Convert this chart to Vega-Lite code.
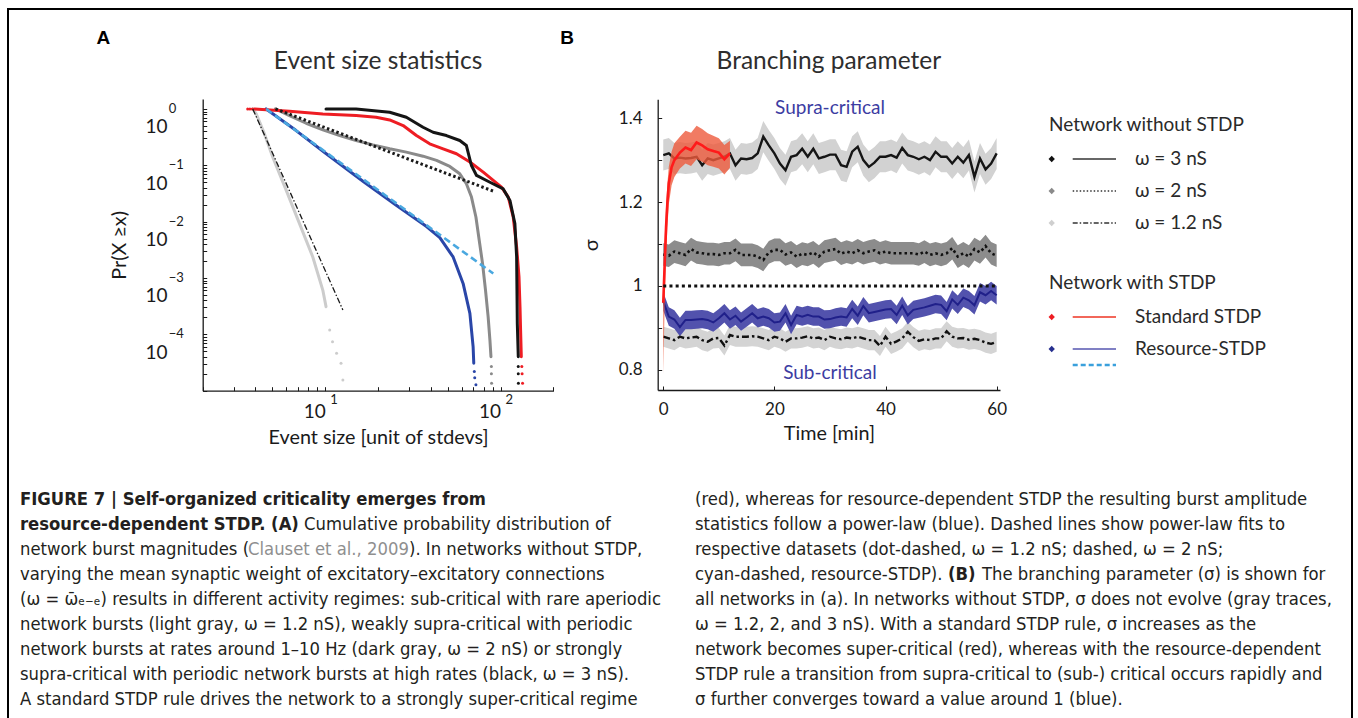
{
"$schema": "https://vega.github.io/schema/vega-lite/v6.json",
"width": 1358,
"height": 718,
"autosize": {"type": "none"},
"padding": 0,
"background": "white",
"config": {
  "view": {"stroke": null},
  "font": "Lato",
  "axis": {"grid": false, "domainColor": "#1a1a1a", "domainWidth": 1.3, "tickColor": "#1a1a1a", "tickWidth": 1, "labelColor": "#1a1a1a", "titleColor": "#1a1a1a", "labelFont": "Lato", "titleFont": "Lato", "titleFontWeight": "normal", "labelOverlap": false, "labelFlush": false}
},
"resolve": {"scale": {"x": "independent", "y": "independent", "color": "independent", "stroke": "independent", "strokeDash": "independent"}, "axis": {"x": "independent", "y": "independent"}},
"datasets": {
  "sizeLines": [
    {"series":"w12","x":3.86,"p":1},{"series":"w12","x":4.04,"p":0.816},{"series":"w12","x":4.5,"p":0.36},{"series":"w12","x":5.02,"p":0.139},{"series":"w12","x":5.99,"p":0.0358},{"series":"w12","x":7.13,"p":0.0092},{"series":"w12","x":8.49,"p":0.00236},{"series":"w12","x":9.68,"p":0.00061},{"series":"w12","x":10.1,"p":0.00031},
    {"series":"w2","x":5.2,"p":1},{"series":"w2","x":6.25,"p":0.762},{"series":"w2","x":7.78,"p":0.557},{"series":"w2","x":9.69,"p":0.425},{"series":"w2","x":12.1,"p":0.337},{"series":"w2","x":15,"p":0.275},{"series":"w2","x":18.7,"p":0.23},{"series":"w2","x":23.3,"p":0.196},{"series":"w2","x":29,"p":0.171},{"series":"w2","x":36.1,"p":0.145},{"series":"w2","x":43.1,"p":0.122},{"series":"w2","x":51.3,"p":0.0953},{"series":"w2","x":58.5,"p":0.0706},{"series":"w2","x":63.8,"p":0.047},{"series":"w2","x":68.2,"p":0.0273},{"series":"w2","x":72.3,"p":0.0121},{"series":"w2","x":75.5,"p":0.00467},{"series":"w2","x":78.9,"p":0.0018},{"series":"w2","x":82,"p":0.00061},{"series":"w2","x":84.9,"p":0.000205},{"series":"w2","x":86.9,"p":0.000079},{"series":"w2","x":88.1,"p":0.00004},
    {"series":"res","x":4.6,"p":1},{"series":"res","x":6.82,"p":0.413},{"series":"res","x":10,"p":0.165},{"series":"res","x":16.4,"p":0.052},{"series":"res","x":25.4,"p":0.0195},{"series":"res","x":37.8,"p":0.0082},{"series":"res","x":45,"p":0.0052},{"series":"res","x":53.6,"p":0.00236},{"series":"res","x":61.1,"p":0.0008},{"series":"res","x":66.8,"p":0.000235},{"series":"res","x":69.7,"p":0.00006},{"series":"res","x":70.3,"p":0.0000307},
    {"series":"std","x":3.95,"p":1},{"series":"std","x":6.25,"p":0.908},{"series":"std","x":9.69,"p":0.815},{"series":"std","x":15,"p":0.762},{"series":"std","x":19.5,"p":0.711},{"series":"std","x":23.3,"p":0.638},{"series":"std","x":27.8,"p":0.507},{"series":"std","x":33.1,"p":0.337},{"series":"std","x":39.4,"p":0.24},{"series":"std","x":47,"p":0.196},{"series":"std","x":56,"p":0.16},{"series":"std","x":66.8,"p":0.114},{"series":"std","x":79.6,"p":0.0757},{"series":"std","x":90.8,"p":0.0539},{"series":"std","x":101.2,"p":0.041},{"series":"std","x":110.6,"p":0.0273},{"series":"std","x":118,"p":0.0121},{"series":"std","x":123.4,"p":0.00356},{"series":"std","x":127.3,"p":0.00105},{"series":"std","x":129,"p":0.000308},{"series":"std","x":130,"p":0.000119},{"series":"std","x":131.2,"p":0.00004},
    {"series":"w3","x":10.1,"p":1},{"series":"w3","x":15,"p":1},{"series":"w3","x":23.3,"p":0.873},{"series":"w3","x":29,"p":0.711},{"series":"w3","x":36.1,"p":0.473},{"series":"w3","x":41.2,"p":0.386},{"series":"w3","x":49.1,"p":0.337},{"series":"w3","x":58.5,"p":0.275},{"series":"w3","x":63.8,"p":0.224},{"series":"w3","x":68.2,"p":0.099},{"series":"w3","x":72.9,"p":0.066},{"series":"w3","x":86.9,"p":0.05},{"series":"w3","x":103.5,"p":0.038},{"series":"w3","x":113,"p":0.0238},{"series":"w3","x":120.6,"p":0.0092},{"series":"w3","x":123.4,"p":0.00237},{"series":"w3","x":124.5,"p":0.000156},{"series":"w3","x":126.1,"p":0.00004}
  ],
  "sizeDots": [
    {"series":"w12","x":10.6,"p":0.000119},{"series":"w12","x":11.0,"p":0.000074},{"series":"w12","x":11.6,"p":0.000046},{"series":"w12","x":12.3,"p":0.0000307},{"series":"w12","x":12.6,"p":0.0000155},
    {"series":"w2","x":88.6,"p":0.000027},{"series":"w2","x":88.6,"p":0.00002},{"series":"w2","x":88.8,"p":0.0000135},
    {"series":"res","x":70.8,"p":0.000022},{"series":"res","x":71.2,"p":0.000017},{"series":"res","x":72.3,"p":0.0000127},
    {"series":"std","x":3.61,"p":1},{"series":"std","x":3.72,"p":1},{"series":"std","x":3.84,"p":1},{"series":"std","x":132.1,"p":0.000027},{"series":"std","x":132.6,"p":0.00002},{"series":"std","x":133.4,"p":0.0000135},
    {"series":"w3","x":126.1,"p":0.000027},{"series":"w3","x":126.1,"p":0.00002},{"series":"w3","x":126.3,"p":0.0000135}
  ],
  "fits": [
    {"fit":"f12","x":3.86,"p":1},{"fit":"f12","x":12.6,"p":0.00027},
    {"fit":"f2","x":5.2,"p":1},{"fit":"f2","x":90.8,"p":0.0348},
    {"fit":"fres","x":4.6,"p":1},{"fit":"fres","x":90.8,"p":0.0012}
  ],
  "sig": [
    {"g":"w3","t":0,"s":1.312,"lo":1.275,"hi":1.349},{"g":"w3","t":1,"s":1.316,"lo":1.279,"hi":1.353},{"g":"w3","t":2,"s":1.304,"lo":1.267,"hi":1.341},{"g":"w3","t":3,"s":1.306,"lo":1.269,"hi":1.343},{"g":"w3","t":4,"s":1.304,"lo":1.267,"hi":1.341},{"g":"w3","t":5,"s":1.305,"lo":1.268,"hi":1.342},{"g":"w3","t":6,"s":1.308,"lo":1.271,"hi":1.345},{"g":"w3","t":7,"s":1.288,"lo":1.251,"hi":1.325},{"g":"w3","t":8,"s":1.304,"lo":1.267,"hi":1.341},{"g":"w3","t":9,"s":1.3,"lo":1.263,"hi":1.337},{"g":"w3","t":10,"s":1.304,"lo":1.267,"hi":1.341},{"g":"w3","t":11,"s":1.308,"lo":1.271,"hi":1.345},{"g":"w3","t":12,"s":1.316,"lo":1.279,"hi":1.353},{"g":"w3","t":13,"s":1.288,"lo":1.251,"hi":1.325},{"g":"w3","t":14,"s":1.304,"lo":1.267,"hi":1.341},{"g":"w3","t":15,"s":1.302,"lo":1.265,"hi":1.339},{"g":"w3","t":16,"s":1.305,"lo":1.268,"hi":1.342},{"g":"w3","t":17,"s":1.316,"lo":1.279,"hi":1.353},{"g":"w3","t":18,"s":1.356,"lo":1.319,"hi":1.393},{"g":"w3","t":19,"s":1.335,"lo":1.298,"hi":1.372},{"g":"w3","t":20,"s":1.316,"lo":1.279,"hi":1.353},{"g":"w3","t":21,"s":1.292,"lo":1.255,"hi":1.329},{"g":"w3","t":22,"s":1.276,"lo":1.239,"hi":1.313},{"g":"w3","t":23,"s":1.308,"lo":1.271,"hi":1.345},{"g":"w3","t":24,"s":1.312,"lo":1.275,"hi":1.349},{"g":"w3","t":25,"s":1.327,"lo":1.29,"hi":1.364},{"g":"w3","t":26,"s":1.308,"lo":1.271,"hi":1.345},{"g":"w3","t":27,"s":1.327,"lo":1.29,"hi":1.364},{"g":"w3","t":28,"s":1.304,"lo":1.267,"hi":1.341},{"g":"w3","t":29,"s":1.308,"lo":1.271,"hi":1.345},{"g":"w3","t":30,"s":1.313,"lo":1.276,"hi":1.35},{"g":"w3","t":31,"s":1.313,"lo":1.276,"hi":1.35},{"g":"w3","t":32,"s":1.288,"lo":1.251,"hi":1.325},{"g":"w3","t":33,"s":1.284,"lo":1.247,"hi":1.321},{"g":"w3","t":34,"s":1.32,"lo":1.283,"hi":1.357},{"g":"w3","t":35,"s":1.332,"lo":1.295,"hi":1.369},{"g":"w3","t":36,"s":1.3,"lo":1.263,"hi":1.337},{"g":"w3","t":37,"s":1.284,"lo":1.247,"hi":1.321},{"g":"w3","t":38,"s":1.294,"lo":1.257,"hi":1.331},{"g":"w3","t":39,"s":1.308,"lo":1.271,"hi":1.345},{"g":"w3","t":40,"s":1.308,"lo":1.271,"hi":1.345},{"g":"w3","t":41,"s":1.312,"lo":1.275,"hi":1.349},{"g":"w3","t":42,"s":1.306,"lo":1.269,"hi":1.343},{"g":"w3","t":43,"s":1.329,"lo":1.292,"hi":1.366},{"g":"w3","t":44,"s":1.312,"lo":1.275,"hi":1.349},{"g":"w3","t":45,"s":1.308,"lo":1.271,"hi":1.345},{"g":"w3","t":46,"s":1.302,"lo":1.265,"hi":1.339},{"g":"w3","t":47,"s":1.308,"lo":1.271,"hi":1.345},{"g":"w3","t":48,"s":1.3,"lo":1.263,"hi":1.337},{"g":"w3","t":49,"s":1.32,"lo":1.283,"hi":1.357},{"g":"w3","t":50,"s":1.308,"lo":1.271,"hi":1.345},{"g":"w3","t":51,"s":1.308,"lo":1.271,"hi":1.345},{"g":"w3","t":52,"s":1.292,"lo":1.255,"hi":1.329},{"g":"w3","t":53,"s":1.308,"lo":1.271,"hi":1.345},{"g":"w3","t":54,"s":1.294,"lo":1.257,"hi":1.331},{"g":"w3","t":55,"s":1.312,"lo":1.275,"hi":1.349},{"g":"w3","t":56,"s":1.26,"lo":1.223,"hi":1.297},{"g":"w3","t":57,"s":1.304,"lo":1.267,"hi":1.341},{"g":"w3","t":58,"s":1.278,"lo":1.241,"hi":1.315},{"g":"w3","t":59,"s":1.292,"lo":1.255,"hi":1.329},{"g":"w3","t":60,"s":1.316,"lo":1.279,"hi":1.353},
    {"g":"w2","t":0,"s":1.075,"lo":1.048,"hi":1.102},{"g":"w2","t":1,"s":1.072,"lo":1.045,"hi":1.099},{"g":"w2","t":2,"s":1.082,"lo":1.055,"hi":1.109},{"g":"w2","t":3,"s":1.078,"lo":1.051,"hi":1.105},{"g":"w2","t":4,"s":1.074,"lo":1.047,"hi":1.101},{"g":"w2","t":5,"s":1.088,"lo":1.061,"hi":1.115},{"g":"w2","t":6,"s":1.08,"lo":1.053,"hi":1.107},{"g":"w2","t":7,"s":1.078,"lo":1.051,"hi":1.105},{"g":"w2","t":8,"s":1.076,"lo":1.049,"hi":1.103},{"g":"w2","t":9,"s":1.076,"lo":1.049,"hi":1.103},{"g":"w2","t":10,"s":1.074,"lo":1.047,"hi":1.101},{"g":"w2","t":11,"s":1.078,"lo":1.051,"hi":1.105},{"g":"w2","t":12,"s":1.078,"lo":1.051,"hi":1.105},{"g":"w2","t":13,"s":1.086,"lo":1.059,"hi":1.113},{"g":"w2","t":14,"s":1.074,"lo":1.047,"hi":1.101},{"g":"w2","t":15,"s":1.074,"lo":1.047,"hi":1.101},{"g":"w2","t":16,"s":1.074,"lo":1.047,"hi":1.101},{"g":"w2","t":17,"s":1.07,"lo":1.043,"hi":1.097},{"g":"w2","t":18,"s":1.062,"lo":1.035,"hi":1.089},{"g":"w2","t":19,"s":1.08,"lo":1.053,"hi":1.107},{"g":"w2","t":20,"s":1.086,"lo":1.059,"hi":1.113},{"g":"w2","t":21,"s":1.086,"lo":1.059,"hi":1.113},{"g":"w2","t":22,"s":1.075,"lo":1.048,"hi":1.102},{"g":"w2","t":23,"s":1.08,"lo":1.053,"hi":1.107},{"g":"w2","t":24,"s":1.07,"lo":1.043,"hi":1.097},{"g":"w2","t":25,"s":1.077,"lo":1.05,"hi":1.104},{"g":"w2","t":26,"s":1.074,"lo":1.047,"hi":1.101},{"g":"w2","t":27,"s":1.08,"lo":1.053,"hi":1.107},{"g":"w2","t":28,"s":1.07,"lo":1.043,"hi":1.097},{"g":"w2","t":29,"s":1.082,"lo":1.055,"hi":1.109},{"g":"w2","t":30,"s":1.085,"lo":1.058,"hi":1.112},{"g":"w2","t":31,"s":1.088,"lo":1.061,"hi":1.115},{"g":"w2","t":32,"s":1.077,"lo":1.05,"hi":1.104},{"g":"w2","t":33,"s":1.082,"lo":1.055,"hi":1.109},{"g":"w2","t":34,"s":1.078,"lo":1.051,"hi":1.105},{"g":"w2","t":35,"s":1.085,"lo":1.058,"hi":1.112},{"g":"w2","t":36,"s":1.078,"lo":1.051,"hi":1.105},{"g":"w2","t":37,"s":1.082,"lo":1.055,"hi":1.109},{"g":"w2","t":38,"s":1.085,"lo":1.058,"hi":1.112},{"g":"w2","t":39,"s":1.078,"lo":1.051,"hi":1.105},{"g":"w2","t":40,"s":1.082,"lo":1.055,"hi":1.109},{"g":"w2","t":41,"s":1.078,"lo":1.051,"hi":1.105},{"g":"w2","t":42,"s":1.078,"lo":1.051,"hi":1.105},{"g":"w2","t":43,"s":1.078,"lo":1.051,"hi":1.105},{"g":"w2","t":44,"s":1.078,"lo":1.051,"hi":1.105},{"g":"w2","t":45,"s":1.078,"lo":1.051,"hi":1.105},{"g":"w2","t":46,"s":1.075,"lo":1.048,"hi":1.102},{"g":"w2","t":47,"s":1.082,"lo":1.055,"hi":1.109},{"g":"w2","t":48,"s":1.074,"lo":1.047,"hi":1.101},{"g":"w2","t":49,"s":1.078,"lo":1.051,"hi":1.105},{"g":"w2","t":50,"s":1.074,"lo":1.047,"hi":1.101},{"g":"w2","t":51,"s":1.078,"lo":1.051,"hi":1.105},{"g":"w2","t":52,"s":1.09,"lo":1.063,"hi":1.117},{"g":"w2","t":53,"s":1.07,"lo":1.043,"hi":1.097},{"g":"w2","t":54,"s":1.078,"lo":1.051,"hi":1.105},{"g":"w2","t":55,"s":1.07,"lo":1.043,"hi":1.097},{"g":"w2","t":56,"s":1.088,"lo":1.061,"hi":1.115},{"g":"w2","t":57,"s":1.08,"lo":1.053,"hi":1.107},{"g":"w2","t":58,"s":1.095,"lo":1.068,"hi":1.122},{"g":"w2","t":59,"s":1.078,"lo":1.051,"hi":1.105},{"g":"w2","t":60,"s":1.072,"lo":1.045,"hi":1.099},
    {"g":"w12","t":0,"s":0.879,"lo":0.855,"hi":0.903},{"g":"w12","t":1,"s":0.875,"lo":0.851,"hi":0.899},{"g":"w12","t":2,"s":0.871,"lo":0.847,"hi":0.895},{"g":"w12","t":3,"s":0.879,"lo":0.855,"hi":0.903},{"g":"w12","t":4,"s":0.875,"lo":0.851,"hi":0.899},{"g":"w12","t":5,"s":0.877,"lo":0.853,"hi":0.901},{"g":"w12","t":6,"s":0.879,"lo":0.855,"hi":0.903},{"g":"w12","t":7,"s":0.871,"lo":0.847,"hi":0.895},{"g":"w12","t":8,"s":0.867,"lo":0.843,"hi":0.891},{"g":"w12","t":9,"s":0.875,"lo":0.851,"hi":0.899},{"g":"w12","t":10,"s":0.876,"lo":0.852,"hi":0.9},{"g":"w12","t":11,"s":0.858,"lo":0.834,"hi":0.882},{"g":"w12","t":12,"s":0.883,"lo":0.859,"hi":0.907},{"g":"w12","t":13,"s":0.879,"lo":0.855,"hi":0.903},{"g":"w12","t":14,"s":0.879,"lo":0.855,"hi":0.903},{"g":"w12","t":15,"s":0.879,"lo":0.855,"hi":0.903},{"g":"w12","t":16,"s":0.88,"lo":0.856,"hi":0.904},{"g":"w12","t":17,"s":0.879,"lo":0.855,"hi":0.903},{"g":"w12","t":18,"s":0.875,"lo":0.851,"hi":0.899},{"g":"w12","t":19,"s":0.871,"lo":0.847,"hi":0.895},{"g":"w12","t":20,"s":0.879,"lo":0.855,"hi":0.903},{"g":"w12","t":21,"s":0.875,"lo":0.851,"hi":0.899},{"g":"w12","t":22,"s":0.867,"lo":0.843,"hi":0.891},{"g":"w12","t":23,"s":0.875,"lo":0.851,"hi":0.899},{"g":"w12","t":24,"s":0.875,"lo":0.851,"hi":0.899},{"g":"w12","t":25,"s":0.877,"lo":0.853,"hi":0.901},{"g":"w12","t":26,"s":0.88,"lo":0.856,"hi":0.904},{"g":"w12","t":27,"s":0.875,"lo":0.851,"hi":0.899},{"g":"w12","t":28,"s":0.877,"lo":0.853,"hi":0.901},{"g":"w12","t":29,"s":0.871,"lo":0.847,"hi":0.895},{"g":"w12","t":30,"s":0.879,"lo":0.855,"hi":0.903},{"g":"w12","t":31,"s":0.875,"lo":0.851,"hi":0.899},{"g":"w12","t":32,"s":0.873,"lo":0.849,"hi":0.897},{"g":"w12","t":33,"s":0.877,"lo":0.853,"hi":0.901},{"g":"w12","t":34,"s":0.875,"lo":0.851,"hi":0.899},{"g":"w12","t":35,"s":0.879,"lo":0.855,"hi":0.903},{"g":"w12","t":36,"s":0.875,"lo":0.851,"hi":0.899},{"g":"w12","t":37,"s":0.871,"lo":0.847,"hi":0.895},{"g":"w12","t":38,"s":0.871,"lo":0.847,"hi":0.895},{"g":"w12","t":39,"s":0.857,"lo":0.833,"hi":0.881},{"g":"w12","t":40,"s":0.879,"lo":0.855,"hi":0.903},{"g":"w12","t":41,"s":0.862,"lo":0.838,"hi":0.886},{"g":"w12","t":42,"s":0.868,"lo":0.844,"hi":0.892},{"g":"w12","t":43,"s":0.875,"lo":0.851,"hi":0.899},{"g":"w12","t":44,"s":0.891,"lo":0.867,"hi":0.915},{"g":"w12","t":45,"s":0.878,"lo":0.854,"hi":0.902},{"g":"w12","t":46,"s":0.869,"lo":0.845,"hi":0.893},{"g":"w12","t":47,"s":0.873,"lo":0.849,"hi":0.897},{"g":"w12","t":48,"s":0.871,"lo":0.847,"hi":0.895},{"g":"w12","t":49,"s":0.875,"lo":0.851,"hi":0.899},{"g":"w12","t":50,"s":0.875,"lo":0.851,"hi":0.899},{"g":"w12","t":51,"s":0.892,"lo":0.868,"hi":0.916},{"g":"w12","t":52,"s":0.879,"lo":0.855,"hi":0.903},{"g":"w12","t":53,"s":0.875,"lo":0.851,"hi":0.899},{"g":"w12","t":54,"s":0.876,"lo":0.852,"hi":0.9},{"g":"w12","t":55,"s":0.872,"lo":0.848,"hi":0.896},{"g":"w12","t":56,"s":0.874,"lo":0.85,"hi":0.898},{"g":"w12","t":57,"s":0.871,"lo":0.847,"hi":0.895},{"g":"w12","t":58,"s":0.865,"lo":0.841,"hi":0.889},{"g":"w12","t":59,"s":0.862,"lo":0.838,"hi":0.886},{"g":"w12","t":60,"s":0.867,"lo":0.843,"hi":0.891},
    {"g":"res","t":0,"s":0.963,"lo":0.941,"hi":0.985},{"g":"res","t":1,"s":0.927,"lo":0.905,"hi":0.949},{"g":"res","t":2,"s":0.92,"lo":0.898,"hi":0.942},{"g":"res","t":3,"s":0.902,"lo":0.88,"hi":0.924},{"g":"res","t":4,"s":0.919,"lo":0.897,"hi":0.941},{"g":"res","t":5,"s":0.919,"lo":0.897,"hi":0.941},{"g":"res","t":6,"s":0.92,"lo":0.898,"hi":0.942},{"g":"res","t":7,"s":0.921,"lo":0.899,"hi":0.943},{"g":"res","t":8,"s":0.919,"lo":0.897,"hi":0.941},{"g":"res","t":9,"s":0.913,"lo":0.891,"hi":0.935},{"g":"res","t":10,"s":0.923,"lo":0.901,"hi":0.945},{"g":"res","t":11,"s":0.935,"lo":0.913,"hi":0.957},{"g":"res","t":12,"s":0.92,"lo":0.898,"hi":0.942},{"g":"res","t":13,"s":0.929,"lo":0.907,"hi":0.951},{"g":"res","t":14,"s":0.915,"lo":0.893,"hi":0.937},{"g":"res","t":15,"s":0.925,"lo":0.903,"hi":0.947},{"g":"res","t":16,"s":0.935,"lo":0.913,"hi":0.957},{"g":"res","t":17,"s":0.923,"lo":0.901,"hi":0.945},{"g":"res","t":18,"s":0.927,"lo":0.905,"hi":0.949},{"g":"res","t":19,"s":0.923,"lo":0.901,"hi":0.945},{"g":"res","t":20,"s":0.913,"lo":0.891,"hi":0.935},{"g":"res","t":21,"s":0.915,"lo":0.893,"hi":0.937},{"g":"res","t":22,"s":0.935,"lo":0.913,"hi":0.957},{"g":"res","t":23,"s":0.907,"lo":0.885,"hi":0.929},{"g":"res","t":24,"s":0.931,"lo":0.909,"hi":0.953},{"g":"res","t":25,"s":0.927,"lo":0.905,"hi":0.949},{"g":"res","t":26,"s":0.931,"lo":0.909,"hi":0.953},{"g":"res","t":27,"s":0.927,"lo":0.905,"hi":0.949},{"g":"res","t":28,"s":0.927,"lo":0.905,"hi":0.949},{"g":"res","t":29,"s":0.92,"lo":0.898,"hi":0.942},{"g":"res","t":30,"s":0.921,"lo":0.899,"hi":0.943},{"g":"res","t":31,"s":0.925,"lo":0.903,"hi":0.947},{"g":"res","t":32,"s":0.927,"lo":0.905,"hi":0.949},{"g":"res","t":33,"s":0.925,"lo":0.903,"hi":0.947},{"g":"res","t":34,"s":0.945,"lo":0.923,"hi":0.967},{"g":"res","t":35,"s":0.929,"lo":0.907,"hi":0.951},{"g":"res","t":36,"s":0.952,"lo":0.93,"hi":0.974},{"g":"res","t":37,"s":0.935,"lo":0.913,"hi":0.957},{"g":"res","t":38,"s":0.938,"lo":0.916,"hi":0.96},{"g":"res","t":39,"s":0.941,"lo":0.919,"hi":0.963},{"g":"res","t":40,"s":0.944,"lo":0.922,"hi":0.966},{"g":"res","t":41,"s":0.945,"lo":0.923,"hi":0.967},{"g":"res","t":42,"s":0.931,"lo":0.909,"hi":0.953},{"g":"res","t":43,"s":0.953,"lo":0.931,"hi":0.975},{"g":"res","t":44,"s":0.93,"lo":0.908,"hi":0.952},{"g":"res","t":45,"s":0.943,"lo":0.921,"hi":0.965},{"g":"res","t":46,"s":0.946,"lo":0.924,"hi":0.968},{"g":"res","t":47,"s":0.949,"lo":0.927,"hi":0.971},{"g":"res","t":48,"s":0.953,"lo":0.931,"hi":0.975},{"g":"res","t":49,"s":0.957,"lo":0.935,"hi":0.979},{"g":"res","t":50,"s":0.955,"lo":0.933,"hi":0.977},{"g":"res","t":51,"s":0.94,"lo":0.918,"hi":0.962},{"g":"res","t":52,"s":0.968,"lo":0.946,"hi":0.99},{"g":"res","t":53,"s":0.955,"lo":0.933,"hi":0.977},{"g":"res","t":54,"s":0.972,"lo":0.95,"hi":0.994},{"g":"res","t":55,"s":0.966,"lo":0.944,"hi":0.988},{"g":"res","t":56,"s":0.954,"lo":0.932,"hi":0.976},{"g":"res","t":57,"s":0.985,"lo":0.963,"hi":1.007},{"g":"res","t":58,"s":0.978,"lo":0.956,"hi":1.0},{"g":"res","t":59,"s":0.988,"lo":0.966,"hi":1.01},{"g":"res","t":60,"s":0.978,"lo":0.956,"hi":1.0},
    {"g":"std","t":0,"s":0.96,"lo":0.79,"hi":1.0},{"g":"std","t":0.25,"s":1.05,"lo":0.96,"hi":1.11},{"g":"std","t":0.5,"s":1.14,"lo":1.07,"hi":1.19},{"g":"std","t":0.75,"s":1.2,"lo":1.14,"hi":1.245},{"g":"std","t":1,"s":1.245,"lo":1.195,"hi":1.285},{"g":"std","t":1.5,"s":1.283,"lo":1.24,"hi":1.32},{"g":"std","t":2,"s":1.3,"lo":1.26,"hi":1.34},{"g":"std","t":3,"s":1.318,"lo":1.28,"hi":1.356},{"g":"std","t":4,"s":1.33,"lo":1.292,"hi":1.37},{"g":"std","t":5,"s":1.324,"lo":1.286,"hi":1.365},{"g":"std","t":6,"s":1.342,"lo":1.302,"hi":1.382},{"g":"std","t":7,"s":1.335,"lo":1.296,"hi":1.374},{"g":"std","t":8,"s":1.326,"lo":1.288,"hi":1.364},{"g":"std","t":9,"s":1.322,"lo":1.284,"hi":1.358},{"g":"std","t":10,"s":1.318,"lo":1.28,"hi":1.352},{"g":"std","t":11,"s":1.302,"lo":1.266,"hi":1.336},{"g":"std","t":12,"s":1.316,"lo":1.282,"hi":1.346}
  ],
  "legend": [
    {"kind":"h","row":0,"item":"","label":"Network without STDP"},
    {"kind":"i","row":1,"item":"w3","label":"ω = 3 nS"},
    {"kind":"i","row":2,"item":"w2","label":"ω = 2 nS"},
    {"kind":"i","row":3,"item":"w12","label":"ω = 1.2 nS"},
    {"kind":"h","row":4,"item":"","label":"Network with STDP"},
    {"kind":"i","row":5,"item":"std","label":"Standard STDP"},
    {"kind":"i","row":6,"item":"res","label":"Resource-STDP"},
    {"kind":"f","row":7,"item":"fit","label":""}
  ],
  "caption": [
    {"col":1,"line":1,"seg":"b","text":"FIGURE 7 | Self-organized criticality emerges from"},
    {"col":1,"line":2,"seg":"b","text":"resource-dependent STDP. (A)"},
    {"col":1,"line":2,"seg":"a2","text":"Cumulative probability distribution of"},
    {"col":1,"line":3,"seg":"n","text":"network burst magnitudes ("},
    {"col":1,"line":3,"seg":"cl","text":"Clauset et al., 2009"},
    {"col":1,"line":3,"seg":"a3","text":"). In networks without STDP,"},
    {"col":1,"line":4,"seg":"n","text":"varying the mean synaptic weight of excitatory–excitatory connections"},
    {"col":1,"line":5,"seg":"n","text":"(ω = ω̄ₑ₋ₑ) results in different activity regimes: sub-critical with rare aperiodic"},
    {"col":1,"line":6,"seg":"n","text":"network bursts (light gray, ω = 1.2 nS), weakly supra-critical with periodic"},
    {"col":1,"line":7,"seg":"n","text":"network bursts at rates around 1–10 Hz (dark gray, ω = 2 nS) or strongly"},
    {"col":1,"line":8,"seg":"n","text":"supra-critical with periodic network bursts at high rates (black, ω = 3 nS)."},
    {"col":1,"line":9,"seg":"n","text":"A standard STDP rule drives the network to a strongly super-critical regime"},
    {"col":2,"line":1,"seg":"n","text":"(red), whereas for resource-dependent STDP the resulting burst amplitude"},
    {"col":2,"line":2,"seg":"n","text":"statistics follow a power-law (blue). Dashed lines show power-law fits to"},
    {"col":2,"line":3,"seg":"n","text":"respective datasets (dot-dashed, ω = 1.2 nS; dashed, ω = 2 nS;"},
    {"col":2,"line":4,"seg":"n","text":"cyan-dashed, resource-STDP)."},
    {"col":2,"line":4,"seg":"bB","text":"(B)"},
    {"col":2,"line":4,"seg":"b4","text":"The branching parameter (σ) is shown for"},
    {"col":2,"line":5,"seg":"n","text":"all networks in (a). In networks without STDP, σ does not evolve (gray traces,"},
    {"col":2,"line":6,"seg":"n","text":"ω = 1.2, 2, and 3 nS). With a standard STDP rule, σ increases as the"},
    {"col":2,"line":7,"seg":"n","text":"network becomes super-critical (red), whereas with the resource-dependent"},
    {"col":2,"line":8,"seg":"n","text":"STDP rule a transition from supra-critical to (sub-) critical occurs rapidly and"},
    {"col":2,"line":9,"seg":"n","text":"σ further converges toward a value around 1 (blue)."}
  ]
},
"layer": [
  {
    "data": {"values": [{}]},
    "mark": {"type": "rect", "filled": false, "stroke": "#000000", "strokeWidth": 2},
    "encoding": {
      "x": {"datum": 0, "type": "quantitative", "scale": {"domain": [0, 1], "range": [8, 1352]}, "axis": null}, "x2": {"datum": 1},
      "y": {"datum": 0, "type": "quantitative", "scale": {"domain": [0, 1], "range": [9, 740]}, "axis": null}, "y2": {"datum": 1}
    }
  },
  {
    "encoding": {
      "x": {"field": "x", "type": "quantitative", "scale": {"type": "log", "domain": [2, 200], "range": [202.7, 553.4], "nice": false},
            "axis": {"orient": "bottom", "offset": -327.3, "title": "Event size [unit of stdevs]", "values": [2,3,4,5,6,7,8,9,10,20,30,40,50,60,70,80,90,100,200], "labelExpr": "datum.value == 10 || datum.value == 100 ? '10' : ''", "labelAlign": "right", "labelFontSize": 19, "labelPadding": 16, "tickSize": -4, "titleFontSize": 19.8, "titlePadding": 6}},
      "y": {"field": "p", "type": "quantitative", "scale": {"type": "log", "domain": [0.00001, 1.5], "range": [390.7, 99], "nice": false},
            "axis": {"orient": "left", "offset": -202.7, "title": "Pr(X  ≥x)", "values": [0.00001,0.00002,0.00003,0.00004,0.00005,0.00006,0.00007,0.00008,0.00009,0.0001,0.0002,0.0003,0.0004,0.0005,0.0006,0.0007,0.0008,0.0009,0.001,0.002,0.003,0.004,0.005,0.006,0.007,0.008,0.009,0.01,0.02,0.03,0.04,0.05,0.06,0.07,0.08,0.09,0.1,0.2,0.3,0.4,0.5,0.6,0.7,0.8,0.9,1], "labelExpr": "indexof([1,0.1,0.01,0.001,0.0001], datum.value) >= 0 ? '10' : ''", "labelFontSize": 19, "labelPadding": 39.7, "labelOffset": 18, "tickSize": -4, "titleFontSize": 19.8, "titlePadding": 15}}
    },
    "layer": [
      {"data": {"name": "sizeLines"}, "mark": {"type": "line", "strokeWidth": 3, "strokeCap": "round", "strokeJoin": "round"},
       "encoding": {"color": {"field": "series", "type": "nominal", "scale": {"domain": ["w12","w2","res","std","w3"], "range": ["#cccccc","#8a8a8a","#2a46a8","#ee1d23","#151515"]}, "legend": null}}},
      {"data": {"name": "sizeDots"}, "mark": {"type": "circle", "size": 9, "opacity": 1},
       "encoding": {"color": {"field": "series", "type": "nominal", "scale": {"domain": ["w12","w2","res","std","w3"], "range": ["#cccccc","#8a8a8a","#2a46a8","#ee1d23","#151515"]}, "legend": null}}},
      {"data": {"name": "fits"}, "transform": [{"filter": "datum.fit == 'f12'"}], "mark": {"type": "line", "color": "#1a1a1a", "strokeWidth": 1.3, "strokeDash": [6, 2, 1.5, 2]}, "encoding": {}},
      {"data": {"name": "fits"}, "transform": [{"filter": "datum.fit == 'f2'"}], "mark": {"type": "line", "color": "#1a1a1a", "strokeWidth": 3, "strokeDash": [2.5, 2.5]}, "encoding": {}},
      {"data": {"name": "fits"}, "transform": [{"filter": "datum.fit == 'fres'"}], "mark": {"type": "line", "color": "#4aa8e0", "strokeWidth": 2.6, "strokeDash": [7, 4]}, "encoding": {}}
    ]
  },
  {
    "encoding": {
      "x": {"field": "x", "type": "quantitative", "scale": {"type": "log", "domain": [2, 200], "range": [202.7, 553.4], "nice": false}, "axis": null},
      "y": {"field": "p", "type": "quantitative", "scale": {"type": "log", "domain": [0.00001, 1.5], "range": [390.7, 99], "nice": false}, "axis": null}
    },
    "layer": [
      {"data": {"values": [{"x":2,"p":1,"e":"0"},{"x":2,"p":0.1,"e":"−1"},{"x":2,"p":0.01,"e":"−2"},{"x":2,"p":0.001,"e":"−3"},{"x":2,"p":0.0001,"e":"−4"}]},
       "mark": {"type": "text", "align": "left", "baseline": "middle", "dx": -34, "fontSize": 13, "color": "#1a1a1a"},
       "encoding": {"text": {"field": "e"}}},
      {"data": {"values": [{"x":10,"p":0.00001,"e":"1"},{"x":100,"p":0.00001,"e":"2"}]},
       "mark": {"type": "text", "align": "left", "baseline": "middle", "dx": 5, "dy": 9.5, "fontSize": 13, "color": "#1a1a1a"},
       "encoding": {"text": {"field": "e"}}},
      {"data": {"values": [{"x":20,"p":5.05,"label":"Event size statistics"}]},
       "mark": {"type": "text", "align": "center", "baseline": "alphabetic", "fontSize": 24.5, "color": "#2e2e2e"},
       "encoding": {"text": {"field": "label"}}},
      {"data": {"values": [{"x":0.542,"p":17.9,"label":"A"}]},
       "mark": {"type": "text", "align": "center", "baseline": "middle", "fontSize": 19, "fontWeight": "bold", "font": "Liberation Sans", "color": "#000000"},
       "encoding": {"text": {"field": "label"}}}
    ]
  },
  {
    "data": {"name": "sig"},
    "encoding": {
      "x": {"field": "t", "type": "quantitative", "scale": {"domain": [-1, 60.6], "range": [657.7, 1000], "nice": false, "zero": false},
            "axis": {"orient": "bottom", "offset": -328, "values": [0, 20, 40, 60], "title": "Time [min]", "tickSize": -4, "labelFontSize": 17, "titleFontSize": 19.8, "labelPadding": 15.5, "titlePadding": 6}},
      "y": {"field": "s", "type": "quantitative", "scale": {"domain": [0.752, 1.445], "range": [390, 99.3], "nice": false, "zero": false},
            "axis": {"orient": "left", "offset": -657.7, "values": [0.8, 0.9, 1, 1.1, 1.2, 1.3, 1.4], "labelExpr": "round(datum.value*10) % 2 == 0 ? format(datum.value, '.1~f') : ''", "title": "σ", "tickSize": -4, "labelFontSize": 17, "titleFontSize": 20, "labelPadding": 19.7, "titlePadding": 17}}
    },
    "layer": [
      {"transform": [{"filter": "datum.g == 'w3'"}], "mark": {"type": "area", "color": "#d2d2d2"},
       "encoding": {"y": {"field": "lo", "type": "quantitative", "scale": {"domain": [0.752, 1.445], "range": [390, 99.3], "nice": false, "zero": false}, "axis": {"orient": "left", "offset": -657.7, "values": [0.8, 0.9, 1, 1.1, 1.2, 1.3, 1.4], "labelExpr": "round(datum.value*10) % 2 == 0 ? format(datum.value, '.1~f') : ''", "title": "σ", "tickSize": -4, "labelFontSize": 17, "titleFontSize": 20, "labelPadding": 19.7, "titlePadding": 17}}, "y2": {"field": "hi"}}},
      {"transform": [{"filter": "datum.g == 'w12'"}], "mark": {"type": "area", "color": "#d4d4d4"},
       "encoding": {"y": {"field": "lo", "type": "quantitative", "scale": {"domain": [0.752, 1.445], "range": [390, 99.3], "nice": false, "zero": false}, "axis": {"orient": "left", "offset": -657.7, "values": [0.8, 0.9, 1, 1.1, 1.2, 1.3, 1.4], "labelExpr": "round(datum.value*10) % 2 == 0 ? format(datum.value, '.1~f') : ''", "title": "σ", "tickSize": -4, "labelFontSize": 17, "titleFontSize": 20, "labelPadding": 19.7, "titlePadding": 17}}, "y2": {"field": "hi"}}},
      {"transform": [{"filter": "datum.g == 'w2'"}], "mark": {"type": "area", "color": "#8c8c8c"},
       "encoding": {"y": {"field": "lo", "type": "quantitative", "scale": {"domain": [0.752, 1.445], "range": [390, 99.3], "nice": false, "zero": false}, "axis": {"orient": "left", "offset": -657.7, "values": [0.8, 0.9, 1, 1.1, 1.2, 1.3, 1.4], "labelExpr": "round(datum.value*10) % 2 == 0 ? format(datum.value, '.1~f') : ''", "title": "σ", "tickSize": -4, "labelFontSize": 17, "titleFontSize": 20, "labelPadding": 19.7, "titlePadding": 17}}, "y2": {"field": "hi"}}},
      {"transform": [{"filter": "datum.g == 'res'"}], "mark": {"type": "area", "color": "#5252ad"},
       "encoding": {"y": {"field": "lo", "type": "quantitative", "scale": {"domain": [0.752, 1.445], "range": [390, 99.3], "nice": false, "zero": false}, "axis": {"orient": "left", "offset": -657.7, "values": [0.8, 0.9, 1, 1.1, 1.2, 1.3, 1.4], "labelExpr": "round(datum.value*10) % 2 == 0 ? format(datum.value, '.1~f') : ''", "title": "σ", "tickSize": -4, "labelFontSize": 17, "titleFontSize": 20, "labelPadding": 19.7, "titlePadding": 17}}, "y2": {"field": "hi"}}},
      {"transform": [{"filter": "datum.g == 'w3'"}], "mark": {"type": "line", "color": "#151515", "strokeWidth": 2.4}, "encoding": {}},
      {"transform": [{"filter": "datum.g == 'w2'"}], "mark": {"type": "line", "color": "#111111", "strokeWidth": 2.6, "strokeDash": [2.5, 3]}, "encoding": {}},
      {"transform": [{"filter": "datum.g == 'w12'"}], "mark": {"type": "line", "color": "#111111", "strokeWidth": 2.4, "strokeDash": [7, 3, 2.5, 3]}, "encoding": {}},
      {"transform": [{"filter": "datum.g == 'res'"}], "mark": {"type": "line", "color": "#20208a", "strokeWidth": 2}, "encoding": {}},
      {"transform": [{"filter": "datum.g == 'std'"}], "mark": {"type": "area", "color": "#ee5a3c", "opacity": 0.8},
       "encoding": {"y": {"field": "lo", "type": "quantitative", "scale": {"domain": [0.752, 1.445], "range": [390, 99.3], "nice": false, "zero": false}, "axis": {"orient": "left", "offset": -657.7, "values": [0.8, 0.9, 1, 1.1, 1.2, 1.3, 1.4], "labelExpr": "round(datum.value*10) % 2 == 0 ? format(datum.value, '.1~f') : ''", "title": "σ", "tickSize": -4, "labelFontSize": 17, "titleFontSize": 20, "labelPadding": 19.7, "titlePadding": 17}}, "y2": {"field": "hi"}}},
      {"transform": [{"filter": "datum.g == 'std'"}], "mark": {"type": "line", "color": "#ff1a1a", "strokeWidth": 2.6}, "encoding": {}}
    ]
  },
  {
    "encoding": {
      "x": {"field": "t", "type": "quantitative", "scale": {"domain": [-1, 60.6], "range": [657.7, 1000], "nice": false, "zero": false}, "axis": null},
      "y": {"field": "s", "type": "quantitative", "scale": {"domain": [0.752, 1.445], "range": [390, 99.3], "nice": false, "zero": false}, "axis": null}
    },
    "layer": [
      {"data": {"values": [{"t":0,"s":1},{"t":60,"s":1}]}, "mark": {"type": "line", "color": "#111111", "strokeWidth": 3, "strokeDash": [3, 3.2]}, "encoding": {}},
      {"data": {"values": [{"t":30,"s":1.4235,"label":"Supra-critical"},{"t":30,"s":0.792,"label":"Sub-critical"}]},
       "mark": {"type": "text", "align": "center", "baseline": "middle", "fontSize": 19, "color": "#3c3ca2"},
       "encoding": {"text": {"field": "label"}}},
      {"data": {"values": [{"t":29.8,"s":1.5165,"label":"Branching parameter"}]},
       "mark": {"type": "text", "align": "center", "baseline": "alphabetic", "fontSize": 24.5, "color": "#2e2e2e"},
       "encoding": {"text": {"field": "label"}}},
      {"data": {"values": [{"t":-17.32,"s":1.59,"label":"B"}]},
       "mark": {"type": "text", "align": "center", "baseline": "middle", "fontSize": 19, "fontWeight": "bold", "font": "Liberation Sans", "color": "#000000"},
       "encoding": {"text": {"field": "label"}}}
    ]
  },
  {
    "data": {"name": "legend"},
    "encoding": {
      "y": {"field": "row", "type": "quantitative", "scale": {"domain": [0,1,2,3,4,5,6,7], "range": [125,159,191,223,283,317,349,365]}, "axis": null}
    },
    "layer": [
      {"transform": [{"filter": "datum.kind == 'h'"}], "mark": {"type": "text", "align": "left", "baseline": "middle", "fontSize": 19, "color": "#2a2a2a"},
       "encoding": {"x": {"datum": 0.9, "type": "quantitative", "scale": {"domain": [0, 26], "range": [1040, 1300]}, "axis": null}, "text": {"field": "label"}}},
      {"transform": [{"filter": "datum.kind == 'i'"}], "mark": {"type": "text", "align": "left", "baseline": "middle", "fontSize": 19, "color": "#2a2a2a"},
       "encoding": {"x": {"datum": 9.5, "type": "quantitative", "scale": {"domain": [0, 26], "range": [1040, 1300]}, "axis": null}, "text": {"field": "label"}}},
      {"transform": [{"filter": "datum.kind == 'i'"}], "mark": {"type": "point", "shape": "diamond", "filled": true, "size": 40, "opacity": 1},
       "encoding": {"x": {"datum": 1.17, "type": "quantitative", "scale": {"domain": [0, 26], "range": [1040, 1300]}, "axis": null},
                    "color": {"field": "item", "type": "nominal", "scale": {"domain": ["w3","w2","w12","std","res"], "range": ["#111111","#8a8a8a","#cfcfcf","#ee1d23","#27308f"]}, "legend": null}}},
      {"transform": [{"filter": "datum.kind == 'i'"}], "mark": {"type": "rule", "strokeWidth": 1.4},
       "encoding": {"x": {"datum": 3.27, "type": "quantitative", "scale": {"domain": [0, 26], "range": [1040, 1300]}, "axis": null}, "x2": {"datum": 7.6},
                    "stroke": {"field": "item", "type": "nominal", "scale": {"domain": ["w3","w2","w12","std","res"], "range": ["#333333","#333333","#333333","#ee3322","#5555b0"]}, "legend": null},
                    "strokeDash": {"field": "item", "type": "nominal", "scale": {"domain": ["w3","w2","w12","std","res"], "range": [[1,0],[1.5,2],[5,2,1.5,2],[1,0],[1,0]]}, "legend": null}}},
      {"transform": [{"filter": "datum.kind == 'f'"}], "mark": {"type": "rule", "strokeWidth": 2.5, "color": "#3aa0dc", "strokeDash": [5, 3]},
       "encoding": {"x": {"datum": 3.27, "type": "quantitative", "scale": {"domain": [0, 26], "range": [1040, 1300]}, "axis": null}, "x2": {"datum": 7.6}}}
    ]
  },
  {
    "data": {"name": "caption"},
    "encoding": {
      "x": {"field": "col", "type": "quantitative", "scale": {"domain": [1, 2], "range": [20, 695]}, "axis": null},
      "y": {"field": "line", "type": "quantitative", "scale": {"domain": [1, 9], "range": [500, 700]}, "axis": null},
      "text": {"field": "text"}
    },
    "layer": [
      {"transform": [{"filter": "datum.seg == 'n'"}], "mark": {"type": "text", "align": "left", "baseline": "middle", "font": "Liberation Sans Narrow, DejaVu Sans Condensed, Liberation Sans", "fontSize": 18.3, "color": "#231f20"}},
      {"transform": [{"filter": "datum.seg == 'b'"}], "mark": {"type": "text", "align": "left", "baseline": "middle", "font": "Liberation Sans Narrow, DejaVu Sans Condensed, Liberation Sans", "fontWeight": "bold", "fontSize": 18.3, "color": "#231f20"}},
      {"transform": [{"filter": "datum.seg == 'a2'"}], "mark": {"type": "text", "align": "left", "baseline": "middle", "dx": 284, "font": "Liberation Sans Narrow, DejaVu Sans Condensed, Liberation Sans", "fontSize": 18.3, "color": "#231f20"}},
      {"transform": [{"filter": "datum.seg == 'cl'"}], "mark": {"type": "text", "align": "left", "baseline": "middle", "dx": 228, "font": "Liberation Sans Narrow, DejaVu Sans Condensed, Liberation Sans", "fontSize": 18.3, "color": "#8f8f8f"}},
      {"transform": [{"filter": "datum.seg == 'a3'"}], "mark": {"type": "text", "align": "left", "baseline": "middle", "dx": 389, "font": "Liberation Sans Narrow, DejaVu Sans Condensed, Liberation Sans", "fontSize": 18.3, "color": "#231f20"}},
      {"transform": [{"filter": "datum.seg == 'bB'"}], "mark": {"type": "text", "align": "left", "baseline": "middle", "dx": 253, "font": "Liberation Sans Narrow, DejaVu Sans Condensed, Liberation Sans", "fontWeight": "bold", "fontSize": 18.3, "color": "#231f20"}},
      {"transform": [{"filter": "datum.seg == 'b4'"}], "mark": {"type": "text", "align": "left", "baseline": "middle", "dx": 287, "font": "Liberation Sans Narrow, DejaVu Sans Condensed, Liberation Sans", "fontSize": 18.3, "color": "#231f20"}}
    ]
  }
]
}
